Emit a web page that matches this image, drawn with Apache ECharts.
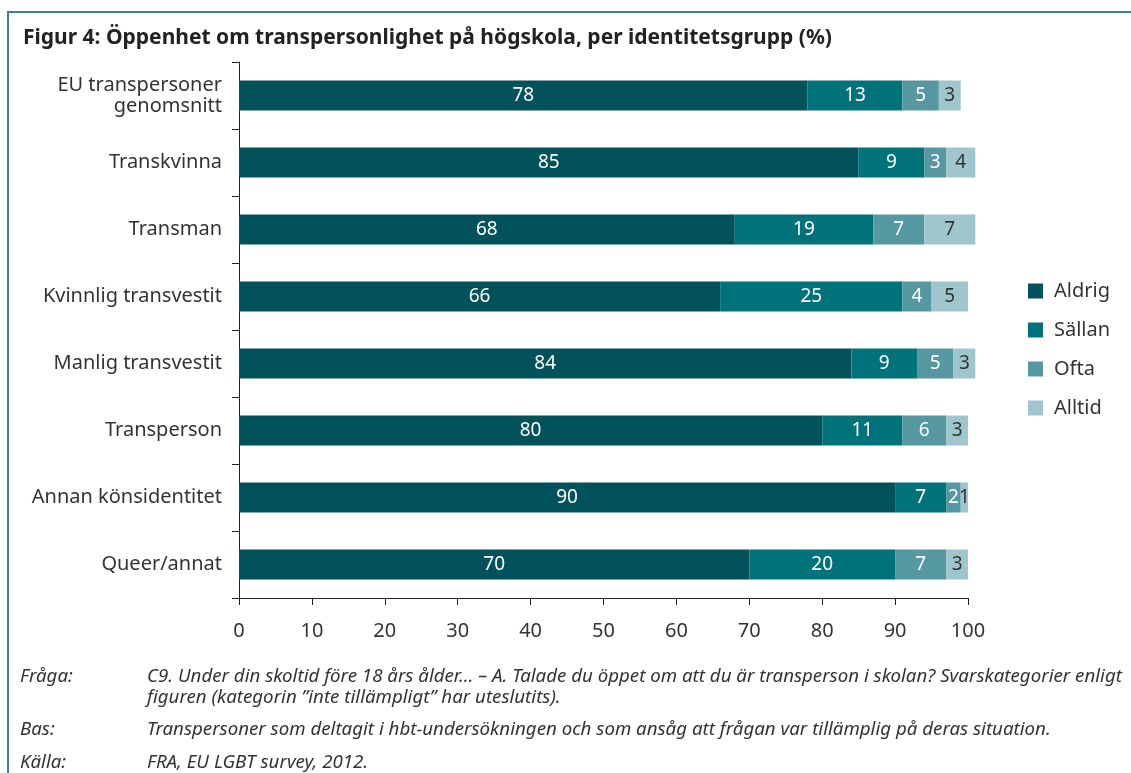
<!DOCTYPE html>
<html>
<head>
<meta charset="utf-8">
<script src="https://cdn.jsdelivr.net/npm/echarts@6/dist/echarts.min.js"></script>
<style>
  html, body { margin: 0; padding: 0; background: #fff; }
  #chart { width: 1131px; height: 773px; }
</style>
</head>
<body>
<div id="chart"></div>
<script>
const categories = [
  "EU transpersoner\ngenomsnitt",
  "Transkvinna",
  "Transman",
  "Kvinnlig transvestit",
  "Manlig transvestit",
  "Transperson",
  "Annan könsidentitet",
  "Queer/annat",
];
const aldrig = [78, 85, 68, 66, 84, 80, 90, 70];
const sallan = [13, 9, 19, 25, 9, 11, 7, 20];
const ofta = [5, 3, 7, 4, 5, 6, 2, 7];
const alltid = [3, 4, 7, 5, 3, 3, 1, 3];

const FONT = "Noto Sans";
const NOTE_FONT = "'Noto Sans', sans-serif";

const makeSeries = (name, data, color, labelColor) => ({
  name,
  type: "bar",
  stack: "total",
  data,
  barWidth: 30,
  clip: false,
  itemStyle: { color },
  label: {
    show: true,
    position: "inside",
    color: labelColor,
    fontSize: 19,
    fontFamily: FONT,
  },
});

const chart = echarts.init(document.getElementById("chart"), null, { renderer: "canvas" });

const notes = [
  ["Fråga:", "C9. Under din skoltid före 18 års ålder… – A. Talade du öppet om att du är transperson i skolan? Svarskategorier enligt", 678],
  ["", "figuren (kategorin ”inte tillämpligt” har uteslutits).", 699],
  ["Bas:", "Transpersoner som deltagit i hbt-undersökningen och som ansåg att frågan var tillämplig på deras situation.", 731],
  ["Källa:", "FRA, EU LGBT survey, 2012.", 764],
];

const noteGraphics = [];
notes.forEach(([head, body, y]) => {
  if (head) {
    noteGraphics.push({
      type: "text", left: 20, top: y - 11,
      style: { text: head, font: "italic 18.7px " + NOTE_FONT, fill: "#333" },
    });
  }
  noteGraphics.push({
    type: "text", left: 147, top: y - 11,
    style: { text: body, font: "italic 18.7px " + NOTE_FONT, fill: "#333" },
  });
});

const option = {
  animation: false,
  title: {
    text: "Figur 4: Öppenhet om transpersonlighet på högskola, per identitetsgrupp (%)",
    left: 18,
    top: 23,
    textStyle: { fontFamily: FONT, fontSize: 21, fontWeight: "bold", color: "#222" },
  },
  legend: {
    orient: "vertical",
    left: 1023,
    top: 276,
    itemWidth: 15,
    itemHeight: 15,
    itemGap: 19,
    icon: "rect",
    textStyle: { fontFamily: FONT, fontSize: 20, color: "#333", padding: [0, 0, 0, 6] },
  },
  grid: { left: 239, right: 163, top: 62, bottom: 175 },
  xAxis: {
    type: "value",
    min: 0,
    max: 100,
    interval: 10,
    splitLine: { show: false },
    axisLine: { show: true, lineStyle: { color: "#222" } },
    axisTick: { show: true, length: 7, lineStyle: { color: "#222" } },
    axisLabel: { fontFamily: FONT, fontSize: 20, color: "#333", margin: 23 },
  },
  yAxis: {
    type: "category",
    inverse: true,
    data: categories,
    axisLine: { show: true, lineStyle: { color: "#222" } },
    axisTick: { show: true, length: 7, lineStyle: { color: "#222" } },
    axisLabel: { fontFamily: FONT, fontSize: 20, color: "#333", margin: 17, lineHeight: 21 },
  },
  series: [
    makeSeries("Aldrig", aldrig, "#02525b", "#fff"),
    makeSeries("Sällan", sallan, "#00727a", "#fff"),
    makeSeries("Ofta", ofta, "#5598a2", "#fff"),
    makeSeries("Alltid", alltid, "#9fc5cd", "#333"),
  ],
  graphic: [
    {
      type: "polyline",
      shape: { points: [[8, 773], [8, 12], [1131, 12]] },
      style: { stroke: "#3c858c", lineWidth: 2, fill: null },
    },
    ...noteGraphics,
  ],
};

chart.setOption(option);
</script>
</body>
</html>
